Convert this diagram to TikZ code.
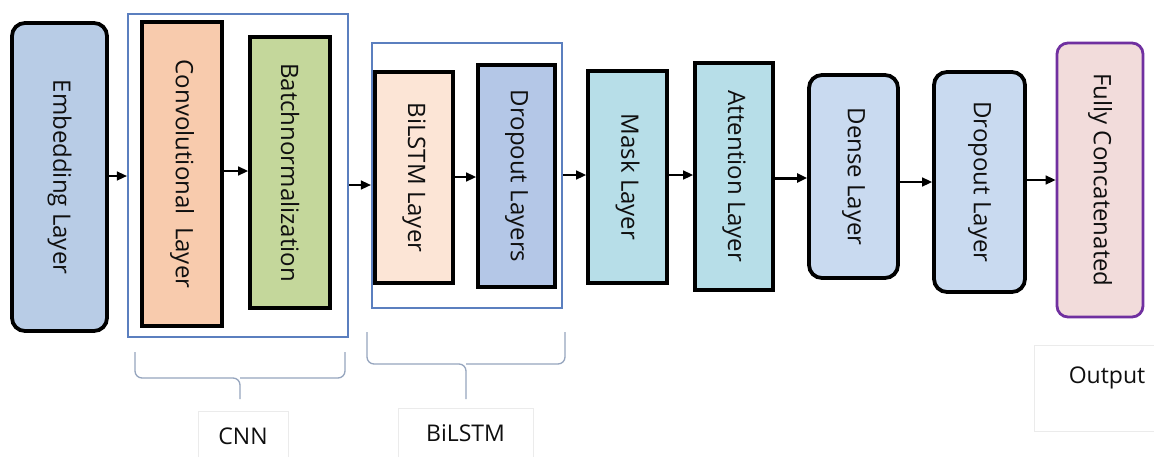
\documentclass[tikz,border=0pt]{standalone}
\usepackage{fontspec}
\setmainfont{Open Sans}
\usetikzlibrary{arrows.meta}
\definecolor{embfill}{RGB}{184,204,230}
\definecolor{convfill}{RGB}{248,203,173}
\definecolor{bnfill}{RGB}{196,215,155}
\definecolor{lstmfill}{RGB}{252,229,214}
\definecolor{dropfill}{RGB}{180,199,231}
\definecolor{maskfill}{RGB}{183,222,232}
\definecolor{densefill}{RGB}{201,218,240}
\definecolor{fullfill}{RGB}{242,220,219}
\definecolor{fullline}{RGB}{112,48,160}
\definecolor{grpline}{RGB}{91,127,191}
\definecolor{braceline}{RGB}{150,165,190}
\definecolor{txt}{RGB}{15,15,15}
\tikzset{
  layer/.style={draw=black, line width=3.8pt, inner sep=0pt, text=txt,
    font=\fontsize{24}{28}\selectfont},
  rlayer/.style={layer, rounded corners=13pt},
  grp/.style={draw=grpline, line width=2.2pt, fill=white, inner sep=0pt},
  arr/.style={-{Triangle[length=10pt,width=9pt]}, line width=1.5pt, black},
  brace/.style={draw=braceline, line width=1.3pt, rounded corners=7pt},
  tagbox/.style={draw=black!8, line width=0.8pt, inner sep=0pt, text=txt,
    font=\fontsize{23}{27}\selectfont}
}
\newcommand{\vtext}[1]{\rotatebox{-90}{#1}}
\begin{document}
\begin{tikzpicture}[x=1pt,y=-1pt]
\useasboundingbox[fill=white] (0,0) rectangle (1154,456);
% group boxes
\node[grp, minimum width=220pt, minimum height=323pt] (cnnbox) at (238,175.5) {};
\node[grp, minimum width=190pt, minimum height=265pt] (lstmbox) at (467,175.5) {};
% layers
\node[rlayer, fill=embfill, minimum width=95pt, minimum height=308pt] (emb) at (59.5,177) {\vtext{Embedding Layer}};
\node[layer, fill=convfill, minimum width=80pt, minimum height=304pt] (conv) at (182,174) {\vtext{Convolutional\ \ Layer}};
\node[layer, fill=bnfill, minimum width=80pt, minimum height=271pt] (bn) at (290,172.5) {\vtext{Batchnormalization}};
\node[layer, fill=lstmfill, minimum width=78pt, minimum height=211pt] (lstm) at (414,177.5) {\vtext{BiLSTM Layer}};
\node[layer, fill=dropfill, minimum width=77pt, minimum height=222pt] (drop1) at (516.5,176) {\vtext{Dropout Layers}};
\node[layer, fill=maskfill, minimum width=79pt, minimum height=212pt] (mask) at (627.5,177) {\vtext{Mask Layer}};
\node[layer, fill=maskfill, minimum width=78pt, minimum height=227pt] (att) at (734,176.5) {\vtext{Attention Layer}};
\node[rlayer, fill=densefill, minimum width=89pt, minimum height=203pt] (dense) at (853.5,176.5) {\vtext{Dense Layer}};
\node[rlayer, fill=densefill, minimum width=91pt, minimum height=220pt] (drop2) at (979.5,182) {\vtext{Dropout Layer}};
\node[rlayer, draw=fullline, fill=fullfill, line width=2.8pt, rounded corners=11pt, minimum width=86pt, minimum height=274pt] (full) at (1100,180) {\vtext{Fully Concatenated}};
% arrows
\draw[arr] (emb.east |- 0,176) -- (cnnbox.west |- 0,176);
\draw[arr] (conv.east |- 0,171) -- (bn.west |- 0,171);
\draw[arr] (cnnbox.east |- 0,185) -- (lstmbox.west |- 0,185);
\draw[arr] (lstm.east |- 0,177) -- (drop1.west |- 0,177);
\draw[arr] (lstmbox.east |- 0,175) -- (mask.west |- 0,175);
\draw[arr] (mask.east |- 0,175) -- (att.west |- 0,175);
\draw[arr, line width=3pt] (att.east |- 0,178) -- (dense.west |- 0,178);
\draw[arr] (dense.east |- 0,182) -- (drop2.west |- 0,182);
\draw[arr] (drop2.east |- 0,180) -- (full.west |- 0,180);
% braces
\coordinate (cb1) at (135,352);
\coordinate (cb2) at (345,352);
\coordinate (cbt) at (240,399);
\draw[brace] (cb1) -- (135,378) -- (240,378) -- (cbt);
\draw[brace] (cb2) -- (345,378) -- (240,378);
\coordinate (lb1) at (367,332);
\coordinate (lb2) at (565,332);
\coordinate (lbt) at (466,399);
\draw[brace] (lb1) -- (367,364) -- (466,364) -- (lbt);
\draw[brace] (lb2) -- (565,364) -- (466,364);
% tags
\node[tagbox, minimum width=90pt, minimum height=50pt] (cnntag) at (243,436) {CNN};
\node[tagbox, minimum width=135pt, minimum height=50pt] (lstmtag) at (465.5,433) {BiLSTM};
\node[tagbox, minimum width=125pt, minimum height=86pt] (outtag) at (1097,388) {};
\node[text=txt, font=\fontsize{23}{27}\selectfont] (outtxt) at (1107,378) {Output};
\end{tikzpicture}
\end{document}
